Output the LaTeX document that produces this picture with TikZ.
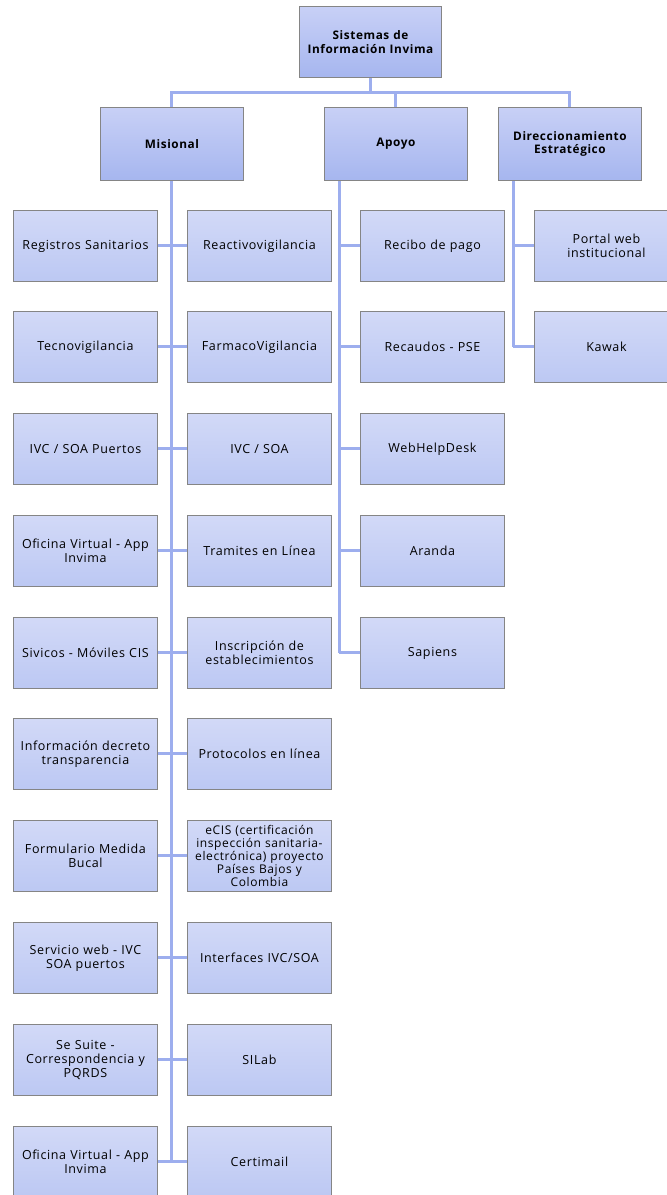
\documentclass[tikz,border=0pt]{standalone}
\usepackage{fontspec}
\setmainfont{Open Sans}[LetterSpace=5]
\usetikzlibrary{calc}
\definecolor{linec}{HTML}{9DAEEE}
\definecolor{bordc}{HTML}{858585}
\definecolor{ltop}{HTML}{D2D9F7}
\definecolor{lbot}{HTML}{BCC8F3}
\definecolor{htop}{HTML}{C8D0F6}
\definecolor{hbot}{HTML}{A6B6EF}
\tikzset{
  leaf/.style={draw=bordc, line width=0.9pt, top color=ltop, bottom color=lbot,
    minimum width=144pt, minimum height=71pt, text width=142pt, align=center,
    inner sep=1pt, font=\fontsize{12.5}{14}\selectfont, anchor=north west},
  head/.style={draw=bordc, line width=0.9pt, top color=htop, bottom color=hbot,
    minimum width=143pt, minimum height=73pt, text width=140pt, align=center,
    inner sep=1pt, font=\bfseries\fontsize{11.8}{13.5}\selectfont, anchor=north west},
  conn/.style={draw=linec, line width=3pt},
}
\begin{document}
\begin{tikzpicture}[x=1pt,y=-1pt]
\useasboundingbox (0,0) rectangle (667,1195);
\fill[white] (0,0) rectangle (667,1195);
% headers
\node[head, minimum width=142pt, minimum height=71pt] (root) at (299,6) {Sistemas de\\Información Invima};
\node[head] (mis) at (100,107) {Misional};
\node[head] (apo) at (324,107) {Apoyo};
\node[head] (dir) at (498,107) {Direccionamiento\\Estratégico};
% misional children
\node[leaf] (L1) at (13,210) {Registros Sanitarios};
\node[leaf] (R1) at (187,210) {Reactivovigilancia};
\node[leaf] (L2) at (13,311) {Tecnovigilancia};
\node[leaf] (R2) at (187,311) {FarmacoVigilancia};
\node[leaf] (L3) at (13,413) {IVC / SOA Puertos};
\node[leaf] (R3) at (187,413) {IVC / SOA};
\node[leaf] (L4) at (13,515) {Oficina Virtual - App\\Invima};
\node[leaf] (R4) at (187,515) {Tramites en Línea};
\node[leaf] (L5) at (13,617) {Sivicos - Móviles CIS};
\node[leaf] (R5) at (187,617) {Inscripción de\\establecimientos};
\node[leaf] (L6) at (13,718) {Información decreto\\transparencia};
\node[leaf] (R6) at (187,718) {Protocolos en línea};
\node[leaf] (L7) at (13,820) {Formulario Medida\\Bucal};
\node[leaf, font=\fontsize{12}{13.2}\selectfont] (R7) at (187,820) {eCIS (certificación\\inspección sanitaria-\\electrónica) proyecto\\Países Bajos y\\Colombia};
\node[leaf] (L8) at (13,922) {Servicio web - IVC\\SOA puertos};
\node[leaf] (R8) at (187,922) {Interfaces IVC/SOA};
\node[leaf] (L9) at (13,1024) {Se Suite -\\Correspondencia y\\PQRDS};
\node[leaf] (R9) at (187,1024) {SILab};
\node[leaf] (L10) at (13,1126) {Oficina Virtual - App\\Invima};
\node[leaf] (R10) at (187,1126) {Certimail};
% apoyo children
\node[leaf] (A1) at (360,210) {Recibo de pago};
\node[leaf] (A2) at (360,311) {Recaudos - PSE};
\node[leaf] (A3) at (360,413) {WebHelpDesk};
\node[leaf] (A4) at (360,515) {Aranda};
\node[leaf] (A5) at (360,617) {Sapiens};
% direccionamiento children
\node[leaf] (D1) at (534,210) {Portal web\\institucional};
\node[leaf] (D2) at (534,311) {Kawak};
% connectors top
\coordinate (bus) at (0,92);
\draw[conn] (root.south) -- (root.south |- bus);
\draw[conn] (mis.north) |- (dir.north |- bus) -- (dir.north);
\draw[conn] (apo.north) -- (apo.north |- bus);
% misional
\draw[conn] (mis.south) -- (mis.south |- L10.east);
\foreach \i in {1,...,10} { \draw[conn] (L\i.east) -- (R\i.west); }
% apoyo
\coordinate (as) at ([xshift=15pt]apo.south west);
\draw[conn] (as) -- (as |- A5.west);
\foreach \i in {1,...,5} { \draw[conn] (as |- A\i.west) -- (A\i.west); }
% direccionamiento
\coordinate (ds) at ([xshift=15pt]dir.south west);
\draw[conn] (ds) -- (ds |- D2.west);
\foreach \i in {1,2} { \draw[conn] (ds |- D\i.west) -- (D\i.west); }
\end{tikzpicture}
\end{document}
